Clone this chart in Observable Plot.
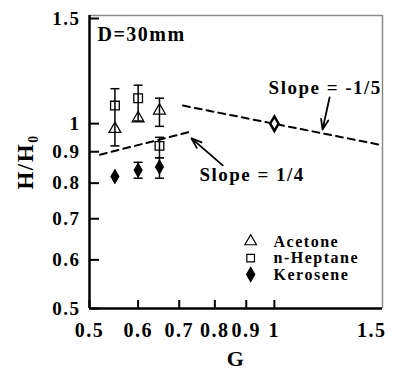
<!DOCTYPE html>
<html><head><meta charset="utf-8">
<script src="https://cdn.jsdelivr.net/npm/d3@7"></script>
<script src="https://cdn.jsdelivr.net/npm/@observablehq/plot@0.6"></script>
<style>
body{margin:0;background:#fff;}
#chart svg text{letter-spacing:1.5px;}
</style></head><body><div id="chart"></div>
<script>
// Data
const G = [0.55, 0.6, 0.65];
const acetone = [0.98, 1.02, 1.05];
const heptane = [1.07, 1.10, 0.92];
const kerosene = [0.82, 0.84, 0.85];
// error bars
const errG    = [0.55, 0.6,   0.6,   0.65, 0.65, 0.65];
const errLow  = [0.92, 1.01,  0.815, 0.99, 0.88, 0.815];
const errHigh = [1.14, 1.155, 0.865, 1.10, 0.95, 0.88];
// normalised point
const normG = [1];
const normH = [1];
// fitted slope lines
const fit1G = [0.52, 0.73], fit1H = [0.89, 0.97];   // slope 1/4
const fit2G = [0.71, 1.5],  fit2H = [1.07, 0.922];  // slope -1/5
// ticks
const xTicks = [0.5, 0.6, 0.7, 0.8, 0.9, 1];
const xTickEnd = [1.5];
const yTicks = [0.5, 0.6, 0.7, 0.8, 0.9, 1];
const yTickEnd = [1.5];
// legend
const legendNames = ["Acetone", "n-Heptane", "Kerosene"];
const legendSymbols = ["triangle", "square", "diamond"];
const legendH = [0.643, 0.604, 0.568];
// annotations
const annText = ["Slope = -1/5", "Slope = 1/4"];
const annG = [1.21, 0.92];
const annH = [1.142, 0.825];
const arrowFrom = [[1.23, 1.103], [0.824, 0.855]];
const arrowTo   = [[1.198, 0.978], [0.733, 0.946]];

const font = "'Liberation Serif','Times New Roman',serif";
const cap = {draw(ctx){ ctx.moveTo(-4.5, 0); ctx.lineTo(4.5, 0); }};
const fmt = d => String(d);

const chart = Plot.plot({
  width: 395, height: 371,
  marginLeft: 89, marginRight: 13, marginTop: 15, marginBottom: 63,
  style: `font-family:${font};font-weight:bold;background:white;color:black;`,
  x: {type: "log", domain: [0.5, 1.5]},
  y: {type: "log", domain: [0.5, 1.5]},
  marks: [
    Plot.ruleY([1.5], {stroke: "#8a8a8a", strokeWidth: 1.5}),
    Plot.ruleX([1.5], {stroke: "#8a8a8a", strokeWidth: 1.5}),
    Plot.axisX({ticks: xTicks, tickSize: -8, tickPadding: 22, tickFormat: fmt, fontSize: 20, strokeWidth: 2, label: null}),
    Plot.axisX({ticks: xTickEnd, tickSize: 0, tickPadding: 14, tickFormat: fmt, fontSize: 20, textAnchor: "end", dx: 4, label: null}),
    Plot.axisY({ticks: yTicks, tickSize: -10, tickPadding: 19, tickFormat: fmt, fontSize: 19, strokeWidth: 2, label: null}),
    Plot.axisY({ticks: yTickEnd, tickSize: -10, tickPadding: 19, tickFormat: fmt, fontSize: 19, strokeWidth: 2, dy: 3, label: null}),
    Plot.ruleX([0.5], {strokeWidth: 2.5}),
    Plot.ruleY([0.5], {strokeWidth: 2.5}),
    // fits
    Plot.line(fit1G, {x: fit1G, y: fit1H, strokeWidth: 2, strokeDasharray: "7,5"}),
    Plot.line(fit2G, {x: fit2G, y: fit2H, strokeWidth: 2, strokeDasharray: "7,5"}),
    // error bars
    Plot.ruleX(errG, {x: errG, y1: errLow, y2: errHigh, strokeWidth: 1.5}),
    Plot.dot(errG.concat(errG), {x: errG.concat(errG), y: errLow.concat(errHigh), symbol: cap, fill: "none", stroke: "black", strokeWidth: 1.5}),
    // data
    Plot.dot(G, {x: G, y: acetone, symbol: "triangle", r: 4.4, fill: "none", stroke: "black", strokeWidth: 1.3}),
    Plot.dot(G, {x: G, y: heptane, symbol: "square", r: 4.9, fill: "none", stroke: "black", strokeWidth: 1.3}),
    Plot.dot(G, {x: G, y: kerosene, symbol: "diamond", r: 4.3, fill: "black", stroke: "black", strokeWidth: 1}),
    Plot.dot(normG, {x: normG, y: normH, symbol: "diamond", r: 4.4, fill: "white", stroke: "black", strokeWidth: 2.5}),
    // arrows
    Plot.arrow(arrowFrom, {x1: d => d[0], y1: d => d[1], x2: (d, i) => arrowTo[i][0], y2: (d, i) => arrowTo[i][1], strokeWidth: 1.8, headLength: 9, headAngle: 40}),
    // annotations
    Plot.text(annText, {x: annG, y: annH, text: d => d, fontSize: 19, fill: "black"}),
    Plot.text(["D=30mm"], {frameAnchor: "top-left", dx: 8, dy: 19, textAnchor: "start", lineAnchor: "middle", fontSize: 20, fill: "black"}),
    // legend
    Plot.dot(legendNames, {x: legendNames.map(() => 0.915), y: legendH, symbol: legendSymbols,
      r: 4.3, fill: (d, i) => i === 2 ? "black" : "none", stroke: "black", strokeWidth: 1.2}),
    Plot.text(legendNames, {x: legendNames.map(() => 0.997), y: legendH, text: d => d, textAnchor: "start", fontSize: 16, fill: "black"}),
    // axis titles
    Plot.text(["G"], {frameAnchor: "bottom", dy: 50, lineAnchor: "middle", fontSize: 22, fill: "black"}),
    Plot.text(["H/H₀"], {frameAnchor: "left", dx: -64, rotate: -90, textAnchor: "middle", lineAnchor: "middle", fontSize: 23, fill: "black"})
  ]
});
document.getElementById("chart").append(chart);
</script></body></html>
